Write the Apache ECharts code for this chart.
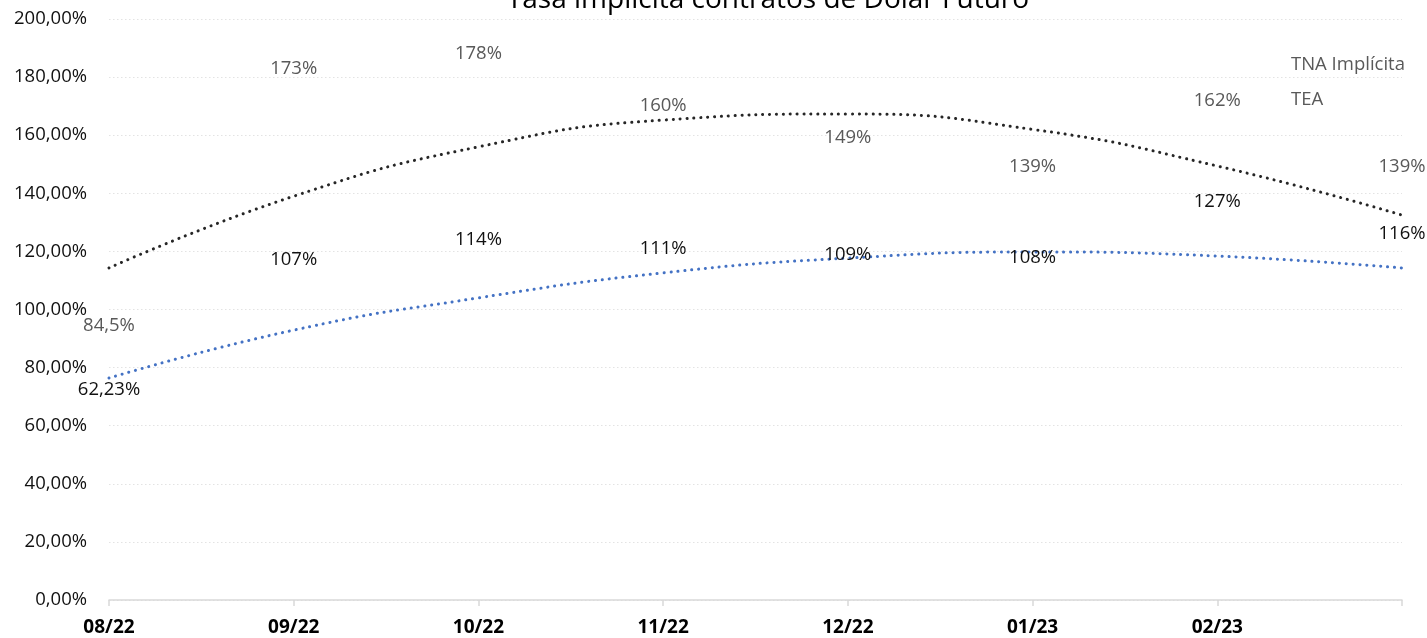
<!DOCTYPE html>
<html>
<head>
<meta charset="utf-8">
<script src="https://cdn.jsdelivr.net/npm/echarts@6/dist/echarts.min.js"></script>
<style>
html,body{margin:0;padding:0;background:#fff;}
#chart{width:1427px;height:638px;}
</style>
</head>
<body>
<div id="chart"></div>
<script>
var categories = ['08/22','09/22','10/22','11/22','12/22','01/23','02/23','03/23'];
var tnaValues = [62.23, 107, 114, 111, 109, 108, 127, 116];
var teaValues = [84.5, 173, 178, 160, 149, 139, 162, 139];
// trend lines at each category
var teaTrend = [114.3, 139, 156, 165.2, 167.3, 162, 149.4, 132.5];
var tnaTrend = [76.4, 92.9, 104, 112.6, 117.7, 119.8, 118.4, 114.3];
var yTicks = {min: 0, max: 200, interval: 20};

var FONT = 'Open Sans';
function pctLabel(v){ return String(v).replace('.', ',') + '%'; }

var chart = echarts.init(document.getElementById('chart'));
chart.setOption({
  animation: false,
  textStyle: {fontFamily: FONT},
  title: {
    text: 'Tasa implícita contratos de Dólar Futuro',
    left: 763, textAlign: 'center', top: -19,
    textStyle: {fontFamily: FONT, fontSize: 28, fontWeight: 'normal', color: '#000'}
  },
  legend: {
    data: ['TNA Implícita', 'TEA'],
    orient: 'vertical',
    left: 1281, top: 50,
    itemWidth: 0, itemHeight: 0, itemGap: 16,
    textStyle: {fontFamily: FONT, fontSize: 18.5, color: '#595959'}
  },
  grid: {left: 109, right: 25, top: 19, bottom: 38, containLabel: false},
  xAxis: {
    type: 'category',
    data: categories,
    boundaryGap: false,
    axisLine: {lineStyle: {color: '#d9d9d9', width: 1.5}},
    axisTick: {show: true, interval: 0, length: 6, lineStyle: {color: '#d9d9d9', width: 1.5}},
    axisLabel: {
      interval: 0, margin: 18,
      fontFamily: FONT, fontSize: 19, fontWeight: 'bold', color: '#000',
      formatter: function(v, i){ return i === categories.length - 1 ? '' : v; }
    },
    splitLine: {show: false}
  },
  yAxis: {
    type: 'value',
    min: yTicks.min, max: yTicks.max, interval: yTicks.interval,
    axisLine: {show: false}, axisTick: {show: false},
    axisLabel: {
      margin: 22, fontFamily: FONT, fontSize: 18.5, color: '#111',
      formatter: function(v){ return v.toFixed(2).replace('.', ',') + '%'; }
    },
    splitLine: {lineStyle: {color: '#e3e3e3', type: [1.5, 2.5], width: 1}}
  },
  series: [
    {
      name: 'TEA trend', type: 'line', data: teaTrend, smooth: 0.5,
      symbol: 'none', silent: true, z: 1,
      lineStyle: {color: '#262626', width: 3, type: [0.1, 6.8], cap: 'round'}
    },
    {
      name: 'TNA trend', type: 'line', data: tnaTrend, smooth: 0.5,
      symbol: 'none', silent: true, z: 1,
      lineStyle: {color: '#4472C4', width: 3, type: [0.1, 6.8], cap: 'round'}
    },
    {
      name: 'TNA Implícita', type: 'line', data: tnaValues,
      symbol: 'circle', symbolSize: 1, z: 3,
      itemStyle: {color: 'rgba(0,0,0,0)'},
      lineStyle: {width: 0, color: 'rgba(0,0,0,0)'},
      label: {show: true, position: 'top', distance: 19,
        fontFamily: FONT, fontSize: 18.5, color: '#111',
        formatter: function(p){ return pctLabel(p.value); }}
    },
    {
      name: 'TEA', type: 'line', data: teaValues,
      symbol: 'circle', symbolSize: 1, z: 3,
      itemStyle: {color: 'rgba(0,0,0,0)'},
      lineStyle: {width: 0, color: 'rgba(0,0,0,0)'},
      label: {show: true, position: 'top', distance: 19,
        fontFamily: FONT, fontSize: 18.5, color: '#595959',
        formatter: function(p){ return pctLabel(p.value); }}
    }
  ]
});
</script>
</body>
</html>
